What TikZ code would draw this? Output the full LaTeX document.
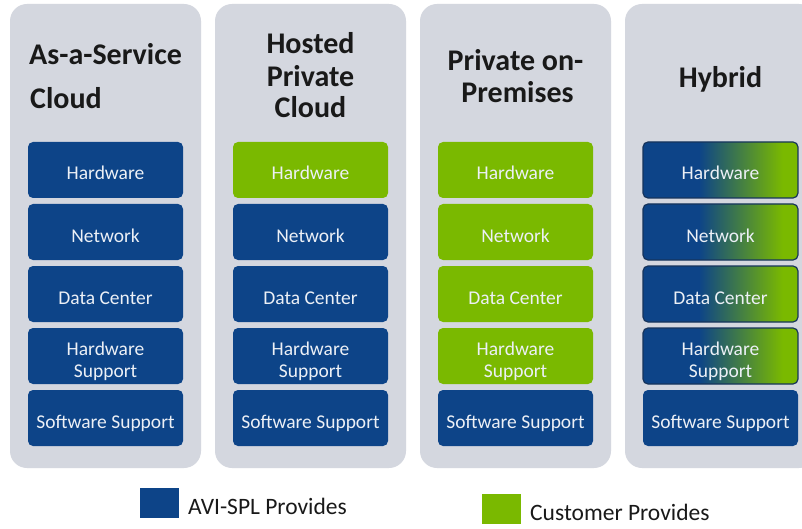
\documentclass[tikz,border=0pt]{standalone}
\usepackage{fontspec}
\setmainfont{Carlito}
\definecolor{avblue}{RGB}{13,68,136}
\definecolor{avgreen}{RGB}{122,185,0}
\definecolor{colgray}{RGB}{212,215,223}
\definecolor{hybline}{RGB}{22,52,92}
\definecolor{titletext}{RGB}{25,25,25}
\definecolor{boxtext}{RGB}{236,240,246}
\pgfdeclarehorizontalshading{hyb}{100bp}{color(0bp)=(avblue); color(43bp)=(avblue); color(70bp)=(avgreen); color(100bp)=(avgreen)}
\tikzset{
  colbox/.style={fill=colgray, draw=none, rounded corners=17pt, minimum width=191pt, minimum height=464pt, inner sep=0pt},
  svcbox/.style={draw=none, rounded corners=5pt, minimum width=155pt, minimum height=56pt, inner sep=0pt, align=center, text=boxtext, font=\fontsize{19.5}{22}\selectfont, text height=20pt, text depth=0pt},
  twoline/.style={text height=42pt, text depth=0pt},
  bluebox/.style={svcbox, fill=avblue},
  greenbox/.style={svcbox, fill=avgreen},
  hybbox/.style={svcbox, shading=hyb, draw=hybline, line width=1.2pt},
  title/.style={inner sep=0pt, text=titletext, font=\fontsize{30}{32}\bfseries\selectfont},
  legsq/.style={draw=none, minimum width=39pt, minimum height=30pt, inner sep=0pt},
  legtext/.style={inner sep=0pt, text=titletext, font=\fontsize{23.5}{26}\selectfont}
}
\begin{document}
\begin{tikzpicture}[x=1pt,y=-1pt]
\useasboundingbox (0,0) rectangle (802,529);
\clip (0,0) rectangle (802,529);
\fill[white] (0,0) rectangle (802,529);
% columns
\node[colbox] (col1) at (105.5,236) {};
\node[colbox] (col2) at (310.5,236) {};
\node[colbox] (col3) at (515.5,236) {};
\node[colbox] (col4) at (720.5,236) {};
% titles
\node[title, anchor=base west] (t1a) at (29,65) {As-a-Service};
\node[title, anchor=base west] (t1b) at (30,109) {Cloud};
\node[title, anchor=base] (t2a) at (310.5,54) {Hosted};
\node[title, anchor=base] (t2b) at (310.5,87) {Private};
\node[title, anchor=base] (t2c) at (310.5,118) {Cloud};
\node[title, anchor=base] (t3a) at (515.5,71) {Private on-};
\node[title, anchor=base] (t3b) at (517.5,103) {Premises};
\node[title, anchor=base] (t4a) at (720.5,88) {Hybrid};
% column 1
\node[bluebox] (c1hw) at (105.5,170) {Hardware};
\node[bluebox] (c1nw) at (105.5,232) {Network};
\node[bluebox] (c1dc) at (105.5,294) {Data Center};
\node[bluebox, twoline] (c1hs) at (105.5,356) {Hardware\\Support};
\node[bluebox] (c1ss) at (105.5,418) {Software Support};
% column 2
\node[greenbox] (c2hw) at (310.5,170) {Hardware};
\node[bluebox] (c2nw) at (310.5,232) {Network};
\node[bluebox] (c2dc) at (310.5,294) {Data Center};
\node[bluebox, twoline] (c2hs) at (310.5,356) {Hardware\\Support};
\node[bluebox] (c2ss) at (310.5,418) {Software Support};
% column 3
\node[greenbox] (c3hw) at (515.5,170) {Hardware};
\node[greenbox] (c3nw) at (515.5,232) {Network};
\node[greenbox] (c3dc) at (515.5,294) {Data Center};
\node[greenbox, twoline] (c3hs) at (515.5,356) {Hardware\\Support};
\node[bluebox] (c3ss) at (515.5,418) {Software Support};
% column 4
\node[hybbox] (c4hw) at (720.5,170) {Hardware};
\node[hybbox] (c4nw) at (720.5,232) {Network};
\node[hybbox] (c4dc) at (720.5,294) {Data Center};
\node[hybbox, twoline] (c4hs) at (720.5,356) {Hardware\\Support};
\node[bluebox] (c4ss) at (720.5,418) {Software Support};
% legend
\node[legsq, fill=avblue] (legb) at (159.5,503) {};
\node[legtext, anchor=west] (legbt) at (188,506) {AVI-SPL Provides};
\node[legsq, fill=avgreen] (legg) at (501.5,509) {};
\node[legtext, anchor=west] (leggt) at (530,512) {Customer Provides};
\end{tikzpicture}
\end{document}
